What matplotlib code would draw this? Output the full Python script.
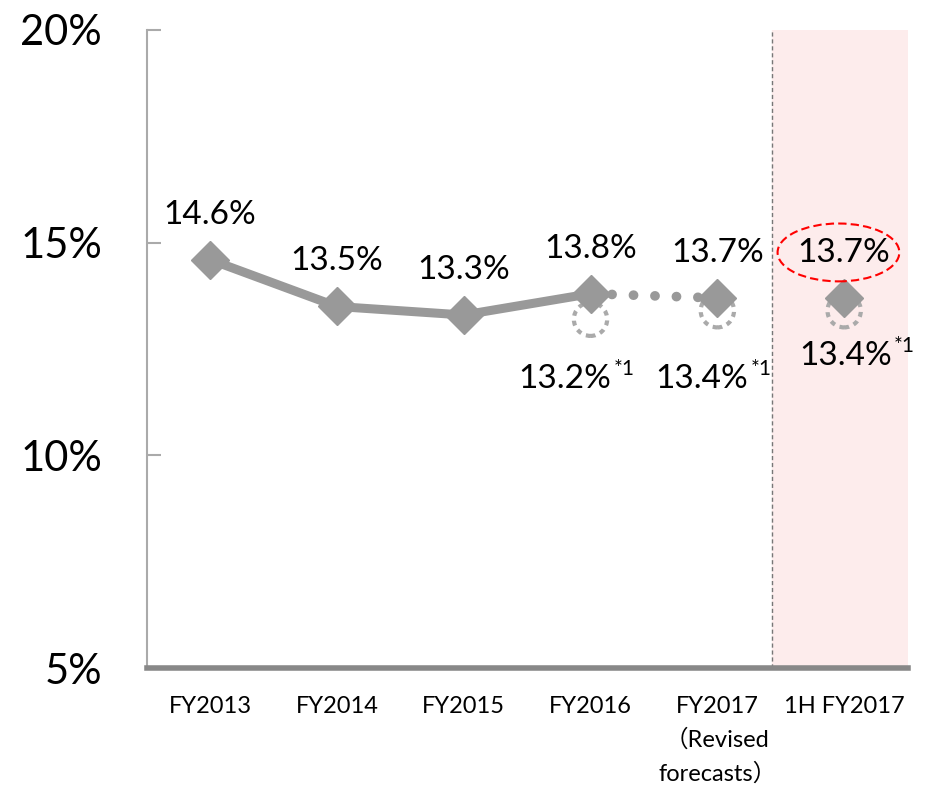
import matplotlib.pyplot as plt
from matplotlib.patches import Ellipse

plt.rcParams['font.family'] = ['Lato', 'Noto Sans CJK JP', 'DejaVu Sans']

# data
categories = ["FY2013", "FY2014", "FY2015", "FY2016", "FY2017\n（Revised\nforecasts）", "1H FY2017"]
actual = [14.6, 13.5, 13.3, 13.8]          # solid line FY2013-FY2016
forecast = [13.8, 13.7]                    # dotted FY2016 -> FY2017
half_year = 13.7                           # 1H FY2017
adjusted = [13.2, 13.4, 13.4]              # *1 values (FY2016, FY2017, 1H)
adjusted_idx = [3, 4, 5]

gray = "#999999"

fig = plt.figure(figsize=(9.28, 7.87), dpi=100)
ax = fig.add_axes([0.158, 0.151, 0.820, 0.811])
ax.set_xlim(-0.5, 5.5)
ax.set_ylim(5, 20)

# shaded 1H area + divider
ax.axvspan(4.43, 5.5, color="#fdecec", zorder=0)
ax.axvline(4.43, color="#777777", ls=(0, (3, 2)), lw=1.0, zorder=1)

# lines
ax.plot(range(4), actual, color=gray, lw=6.5, marker="D", ms=19, zorder=3)
ax.plot([3, 4], forecast, color=gray, lw=7, ls=(0, (0.01, 2.2)),
        dash_capstyle="round", zorder=2)
ax.plot([4, 5], [forecast[1], half_year], color=gray, lw=0, marker="D", ms=19, zorder=3)

# dotted circles
ax.scatter(adjusted_idx, adjusted, s=24**2, facecolors="none", edgecolors="#aaaaaa",
           linewidths=3, linestyles=(0, (1.2, 1.2)), zorder=2)

# value labels above
top_vals = actual + [forecast[1], half_year]
for i, v in enumerate(top_vals):
    ax.annotate(f"{v:.1f}%", (i, v), xytext=(0, 45), textcoords="offset pixels",
                ha="center", va="center", fontsize=24)

# *1 labels below
below_dy = [-60, -68, -45]
below_dx = [21, 31, 48]
for i, v, dx, dy in zip(adjusted_idx, adjusted, below_dx, below_dy):
    ax.annotate(f"{v:.1f}%", (i, v), xytext=(dx, dy), textcoords="offset pixels",
                ha="right", va="center", fontsize=24)
    ax.annotate("*1", (i, v), xytext=(dx + 2, dy + 10), textcoords="offset pixels",
                ha="left", va="center", fontsize=15)

# red dashed ellipse around 1H label
ax.add_patch(Ellipse((4.955, 14.77), 0.96, 1.36, fill=False, ec="red",
                     ls=(0, (4, 2)), lw=1.5, zorder=4))

# axes styling
ax.spines["top"].set_visible(False)
ax.spines["right"].set_visible(False)
ax.spines["left"].set_color("#aaaaaa")
ax.spines["left"].set_linewidth(1.5)
ax.spines["bottom"].set_color("#888888")
ax.spines["bottom"].set_linewidth(4)

ax.set_yticks([5, 10, 15, 20])
ax.set_yticklabels(["5%", "10%", "15%", "20%"], fontsize=30)
ax.tick_params(axis="y", direction="in", length=10, width=1.5, color="#aaaaaa", pad=32)
ax.set_xticks(range(6))
ax.set_xticklabels(categories, fontsize=17, linespacing=1.62, va="top")
ax.tick_params(axis="x", length=0, pad=20)

fig.savefig("out.png", dpi=100)
